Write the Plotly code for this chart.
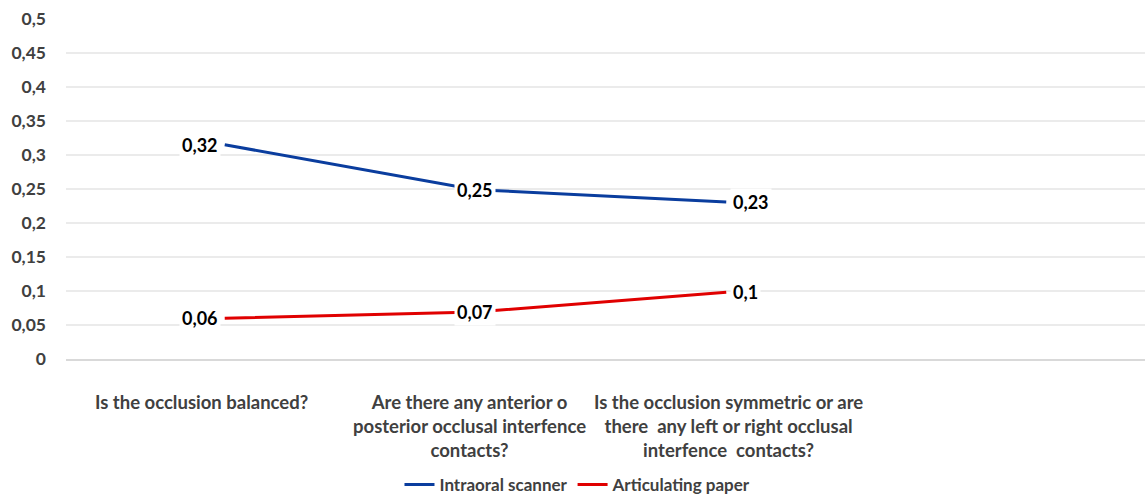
import plotly.graph_objects as go

categories = [
    "Is the occlusion balanced?",
    "Are there any anterior o<br>posterior occlusal interfence<br>contacts?",
    "Is the occlusion symmetric or are<br>there  any left or right occlusal<br>interfence  contacts?",
]
scanner_values = [0.315, 0.249, 0.231]
scanner_labels = ["0,32", "0,25", "0,23"]
paper_values = [0.06, 0.069, 0.098]
paper_labels = ["0,06", "0,07", "0,1"]
y_ticks = [0, 0.05, 0.1, 0.15, 0.2, 0.25, 0.3, 0.35, 0.4, 0.45, 0.5]
y_tick_text = ["0", "0,05", "0,1", "0,15", "0,2", "0,25", "0,3", "0,35", "0,4", "0,45", "0,5"]

BLUE = "#0a3d9e"
RED = "#e00000"
FONT = "Lato"
GREY = "#404040"

xs = list(range(len(categories)))
fig = go.Figure()
fig.add_trace(go.Scatter(x=xs, y=scanner_values, mode="lines", name="<b>Intraoral scanner</b>",
                         line=dict(color=BLUE, width=3)))
fig.add_trace(go.Scatter(x=xs, y=paper_values, mode="lines", name="<b>Articulating paper</b>",
                         line=dict(color=RED, width=3)))

anchors = ["right", "center", "left"]
shifts = [-4, 0, 4]
for vals, labs in ((scanner_values, scanner_labels), (paper_values, paper_labels)):
    for i, (v, t) in enumerate(zip(vals, labs)):
        fig.add_annotation(x=xs[i], y=v, text="<b>" + t + "</b>", showarrow=False,
                           xanchor=anchors[i], xshift=shifts[i], yanchor="middle",
                           bgcolor="white", borderpad=2,
                           font=dict(family=FONT, size=18, color="#000000"))

cat_shifts = [-23, -6, 2]
for i, c in enumerate(categories):
    fig.add_annotation(x=xs[i], y=-0.088, yref="paper", text="<b>" + c + "</b>",
                       showarrow=False, xanchor="center", yanchor="top",
                       xshift=cat_shifts[i], align="center",
                       font=dict(family=FONT, size=18.5, color=GREY))

fig.update_layout(
    width=1145, height=499,
    margin=dict(l=66, r=0, t=19, b=140),
    plot_bgcolor="white", paper_bgcolor="white",
    showlegend=True,
    legend=dict(orientation="h", x=0.4745, xanchor="center",
                yref="container", y=0.028, yanchor="middle",
                font=dict(family=FONT, size=17, color=GREY),
                itemwidth=30, tracegroupgap=0),
    font=dict(family=FONT),
)
fig.update_xaxes(
    range=[-0.633, 3.67], showgrid=False, zeroline=False,
    showline=True, linecolor="#d9d9d9", linewidth=2,
    ticks="", showticklabels=False, automargin=False,
)
fig.update_yaxes(
    range=[0, 0.5], tickmode="array", tickvals=y_ticks,
    ticktext=["<b>" + t + "</b>" for t in y_tick_text],
    showgrid=True, gridcolor="#ebebeb", gridwidth=1.5, zeroline=False,
    showline=False, ticks="", ticklabelstandoff=19, automargin=False,
    tickfont=dict(family=FONT, size=17.5, color=GREY),
)
fig.write_html("out.html")
